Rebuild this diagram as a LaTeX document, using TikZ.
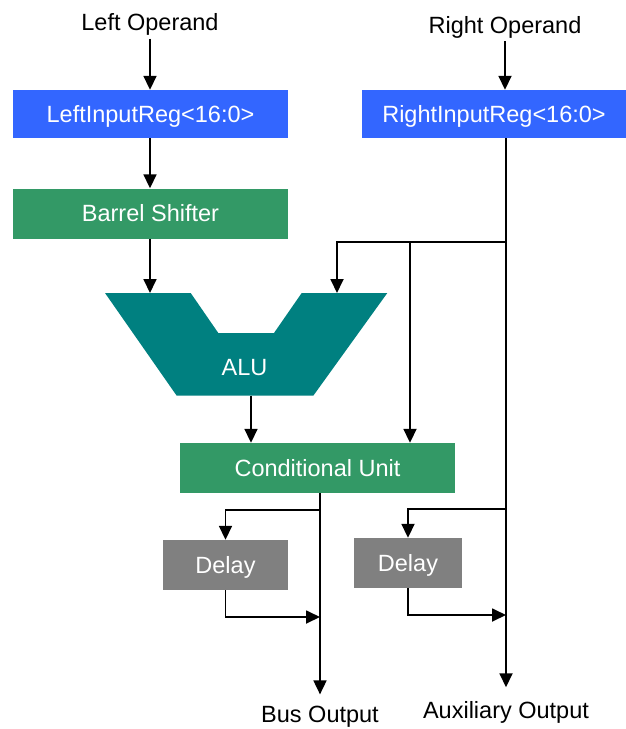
\documentclass[tikz,border=0pt]{standalone}
\usepackage{fontspec}
\setmainfont{Liberation Sans}
\usetikzlibrary{arrows.meta}
\definecolor{regblue}{RGB}{51,102,255}
\definecolor{unitgreen}{RGB}{51,153,102}
\definecolor{aluteal}{RGB}{0,128,128}
\definecolor{delaygray}{RGB}{128,128,128}
\begin{document}
\begin{tikzpicture}[x=1pt,y=-1pt,
  font=\fontsize{23.5}{28}\selectfont,
  wire/.style={line width=1.8pt},
  arr/.style={wire,-{Triangle[length=14pt,width=13pt]}},
  block/.style={rectangle,draw=none,inner sep=0pt,text=white,
    text height=16.8pt,text depth=0pt},
  reg/.style={block,fill=regblue,minimum height=48pt},
  unit/.style={block,fill=unitgreen,minimum width=275pt,minimum height=50pt},
  delaybox/.style={block,fill=delaygray,minimum height=50pt},
  label/.style={anchor=base,inner sep=3pt}]
\useasboundingbox (0,0) rectangle (626,729);

% operand labels and input registers
\node[label] (lop) at (150,30.5) {Left Operand};
\node[label] (rop) at (505,33) {Right Operand};
\node[reg,minimum width=275pt] (lreg) at (150.5,114) {LeftInputReg<16:0>};
\node[reg,minimum width=264pt] (rreg) at (494,114) {RightInputReg<16:0>};

% barrel shifter
\node[unit] (bs) at (150.5,213.5) {Barrel Shifter};

% ALU body
\fill[aluteal] (105,293) -- (190.7,293) -- (218.3,333) -- (274,333)
  -- (301.7,293) -- (387.3,293) -- (313.3,395.7) -- (176.7,395.7) -- cycle;
\node[block] (alu) at (244.5,367.5) {ALU};
\coordinate (aluL) at (150,293);
\coordinate (aluR) at (337,293);
\coordinate (aluB) at (251,395.7);

% conditional unit and delays
\node[unit] (cu) at (317.5,468) {Conditional Unit};
\node[delaybox,minimum width=125pt] (dl) at (225.5,565) {Delay};
\node[delaybox,minimum width=108pt] (dr) at (408,563) {Delay};

% outputs
\node[label] (bus) at (320,722) {Bus Output};
\node[label] (aux) at (506,718) {Auxiliary Output};

% junctions
\coordinate (j1) at (506,242);
\coordinate (j1b) at (410,242);
\coordinate (j2) at (506,509);
\coordinate (j3) at (320,510);
\coordinate (j4) at (320,617);
\coordinate (j5) at (506,615);

% left datapath
\draw[arr] (lop) -- (lop |- lreg.north);
\draw[arr] (lreg.south -| aluL) -- (bs.north -| aluL);
\draw[arr] (bs.south -| aluL) -- (aluL);
\draw[arr] (aluB) -- (aluB |- cu.north);

% right operand spine
\draw[arr] (rop) -- (rop |- rreg.north);
\draw[arr,shorten >=10.5pt] (rreg.south -| aux) -- (aux);
\draw[arr] (j1) -| (aluR);
\draw[arr] (j1b) -- (j1b |- cu.north);

% bus output with delayed path
\draw[arr,shorten >=8pt] (cu.south -| bus) -- (bus);
\draw[arr] (j3) -| (dl.north);
\draw[arr] (dl.south) |- (j4);

% auxiliary output delayed path
\draw[arr] (j2) -| (dr.north);
\draw[arr] (dr.south) |- (j5);
\end{tikzpicture}
\end{document}
